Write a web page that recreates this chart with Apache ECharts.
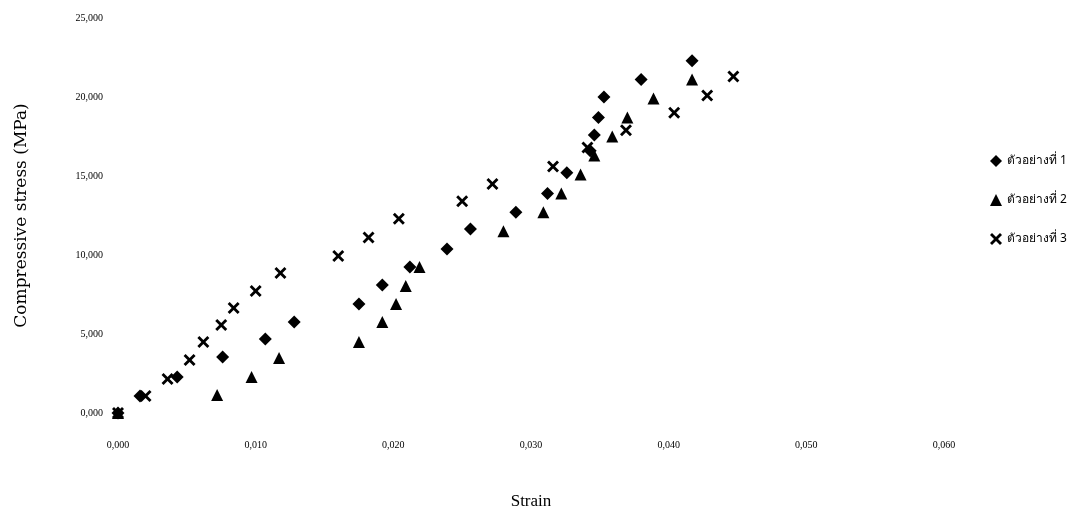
<!DOCTYPE html>
<html><head><meta charset="utf-8">
<script src="https://cdn.jsdelivr.net/npm/echarts@6/dist/echarts.min.js"></script>
<style>html,body{margin:0;padding:0;background:#fff}#c{width:1086px;height:513px}</style>
</head><body><div id="c"></div>
<script>
const seriesNames = ['ตัวอย่างที่ 1', 'ตัวอย่างที่ 2', 'ตัวอย่างที่ 3'];
const sample1 = [[0,0],[0.0016,1.08],[0.0043,2.28],[0.0076,3.54],[0.0107,4.68],[0.0128,5.76],[0.0175,6.9],[0.0192,8.1],[0.0212,9.24],[0.0239,10.38],[0.0256,11.65],[0.0289,12.7],[0.0312,13.9],[0.0326,15.2],[0.0343,16.6],[0.0346,17.6],[0.0349,18.7],[0.0353,20.0],[0.0380,21.1],[0.0417,22.3]];
const sample2 = [[0,0],[0.0072,1.14],[0.0097,2.28],[0.0117,3.48],[0.0175,4.49],[0.0192,5.76],[0.0202,6.9],[0.0209,8.04],[0.0219,9.24],[0.0280,11.5],[0.0309,12.7],[0.0322,13.9],[0.0336,15.1],[0.0346,16.3],[0.0359,17.5],[0.0370,18.7],[0.0389,19.9],[0.0417,21.1]];
const sample3 = [[0,0],[0.0020,1.08],[0.0036,2.15],[0.0052,3.35],[0.0062,4.49],[0.0075,5.57],[0.0084,6.65],[0.0100,7.72],[0.0118,8.86],[0.0160,9.94],[0.0182,11.1],[0.0204,12.3],[0.0250,13.4],[0.0272,14.5],[0.0316,15.6],[0.0341,16.8],[0.0369,17.9],[0.0404,19.0],[0.0428,20.1],[0.0447,21.3]];
const xAxisName = 'Strain';
const yAxisName = 'Compressive stress (MPa)';

const crossPath = 'path://M2,0L6,4L10,0L12,2L8,6L12,10L10,12L6,8L2,12L0,10L4,6L0,2Z';
const fmt3 = v => v.toFixed(3).replace('.', ',');
const serif = 'Liberation Serif';
const chart = echarts.init(document.getElementById('c'), null, {renderer: 'canvas'});
chart.setOption({
  backgroundColor: '#fff',
  animation: false,
  textStyle: {fontFamily: serif},
  grid: {left: 118, top: 18, width: 826, height: 395, containLabel: false, outerBoundsMode: 'none'},
  legend: {
    orient: 'vertical', left: 985, top: 150, itemGap: 27, itemWidth: 12, itemHeight: 12,
    textStyle: {fontFamily: 'Noto Sans, DejaVu Sans, sans-serif', fontSize: 12, color: '#000'},
    data: [
      {name: seriesNames[0], icon: 'diamond'},
      {name: seriesNames[1], icon: 'triangle'},
      {name: seriesNames[2], icon: crossPath}
    ]
  },
  xAxis: {
    type: 'value', min: 0, max: 0.06, interval: 0.01,
    name: xAxisName, nameLocation: 'middle', nameGap: 80,
    nameTextStyle: {fontFamily: serif, fontSize: 17, color: '#000'},
    axisLine: {show: false}, axisTick: {show: false}, splitLine: {show: false},
    axisLabel: {formatter: fmt3, fontFamily: serif, fontSize: 10, color: '#000', margin: 27}
  },
  yAxis: {
    type: 'value', min: 0, max: 25, interval: 5,
    name: yAxisName, nameLocation: 'middle', nameGap: 88,
    nameTextStyle: {fontFamily: 'DejaVu Serif', fontSize: 17, color: '#000'},
    axisLine: {show: false}, axisTick: {show: false}, splitLine: {show: false},
    axisLabel: {formatter: fmt3, fontFamily: serif, fontSize: 10, color: '#000', margin: 15}
  },
  series: [
    {name: seriesNames[0], type: 'scatter', data: sample1, symbol: 'diamond', symbolSize: 13, itemStyle: {color: '#000', opacity: 1}},
    {name: seriesNames[1], type: 'scatter', data: sample2, symbol: 'triangle', symbolSize: 12, itemStyle: {color: '#000', opacity: 1}},
    {name: seriesNames[2], type: 'scatter', data: sample3, symbol: crossPath, symbolSize: 12, itemStyle: {color: '#000', opacity: 1}}
  ]
});
</script></body></html>
